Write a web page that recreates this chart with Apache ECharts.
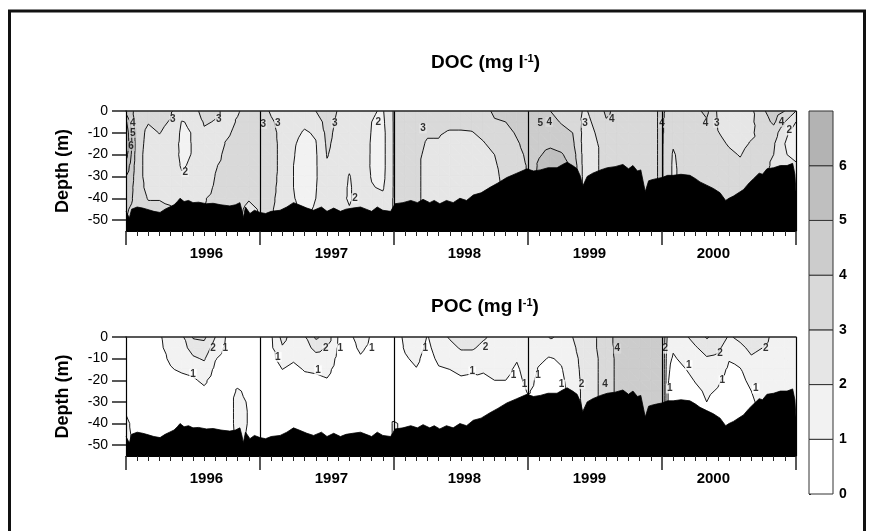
<!DOCTYPE html>
<html>
<head>
<meta charset="utf-8">
<script src="https://cdn.jsdelivr.net/npm/echarts@6/dist/echarts.min.js"></script>
<style>
  html, body { margin: 0; padding: 0; background: #fff; }
  #chart { width: 873px; height: 531px; }
</style>
</head>
<body>
<div id="chart"></div>
<script>
// Sampling depths (m) for every profile
const depths = [0, -5, -10, -15, -20, -25, -30, -35, -40, -45, -50, -55];

// Time in months from the start of the record (long ticks every 12 months)
const docMonths = [0, 0.5, 1, 2, 3, 4, 5, 6, 7, 8, 9, 10, 11, 12, 13, 14, 15, 16, 17, 18, 19, 20,
  21, 22, 23, 24, 25, 26, 27, 28, 29, 30, 31, 32, 33, 34, 35, 36, 37, 38, 39, 40, 41, 42, 43, 44,
  45, 46, 47, 48, 49, 50, 51, 52, 53, 54, 55, 56, 57, 58, 59, 60];

// DOC (mg/l) profiles, one row per entry of docMonths, top to bottom
const docProfiles = [
  [4.6, 6.2, 6.8, 6.9, 6.4, 5.6, 5.0, 4.6, 4.3, 4.1, 4.0, 4.0],
  [4.2, 4.6, 5.0, 5.1, 4.9, 4.6, 4.4, 4.2, 4.1, 3.9, 3.8, 3.8],
  [3.6, 3.5, 3.4, 3.35, 3.3, 3.3, 3.3, 3.3, 3.4, 3.5, 3.5, 3.5],
  [3.4, 3.05, 2.8, 2.75, 2.7, 2.7, 2.7, 2.8, 2.95, 3.2, 3.3, 3.3],
  [3.3, 3.15, 3.02, 2.85, 2.7, 2.6, 2.6, 2.7, 2.95, 3.2, 3.3, 3.3],
  [3.1, 2.95, 2.8, 2.6, 2.5, 2.5, 2.5, 2.6, 2.9, 3.05, 3.1, 3.1],
  [2.6, 1.95, 1.8, 1.75, 1.8, 1.9, 2.1, 2.4, 2.7, 2.85, 2.9, 2.9],
  [2.7, 2.15, 2.05, 2.05, 2.05, 2.15, 2.35, 2.55, 2.7, 2.8, 2.8, 2.8],
  [3.3, 3.1, 2.85, 2.6, 2.5, 2.5, 2.55, 2.7, 2.95, 3.0, 3.0, 3.0],
  [3.15, 2.95, 2.7, 2.7, 2.8, 2.95, 3.02, 3.1, 3.2, 3.2, 3.2, 3.2],
  [2.8, 2.8, 2.9, 3.05, 3.15, 3.2, 3.25, 3.3, 3.3, 3.3, 3.3, 3.3],
  [2.95, 3.05, 3.15, 3.25, 3.3, 3.35, 3.4, 3.4, 3.3, 3.15, 3.1, 3.1],
  [3.2, 3.3, 3.35, 3.4, 3.45, 3.45, 3.4, 3.3, 3.05, 2.85, 2.8, 2.8],
  [3.4, 3.4, 3.45, 3.5, 3.5, 3.5, 3.45, 3.35, 3.2, 3.05, 3.0, 3.0],
  [2.9, 3.1, 3.2, 3.25, 3.25, 3.25, 3.2, 3.15, 3.1, 3.05, 3.05, 3.05],
  [2.7, 2.75, 2.8, 2.8, 2.8, 2.8, 2.8, 2.8, 2.8, 2.8, 2.8, 2.8],
  [2.6, 2.45, 2.25, 2.1, 2.05, 2.0, 2.0, 2.0, 2.05, 2.15, 2.2, 2.2],
  [2.5, 2.2, 1.9, 1.7, 1.6, 1.6, 1.6, 1.6, 1.65, 1.8, 1.9, 1.9],
  [3.0, 2.5, 2.1, 1.95, 1.9, 1.9, 1.9, 1.95, 2.0, 2.1, 2.2, 2.2],
  [3.4, 3.35, 3.25, 3.15, 3.05, 2.9, 2.8, 2.75, 2.7, 2.7, 2.7, 2.7],
  [2.95, 2.85, 2.75, 2.7, 2.65, 2.6, 2.5, 2.4, 2.3, 2.3, 2.3, 2.3],
  [2.8, 2.75, 2.7, 2.6, 2.4, 2.15, 1.95, 1.9, 1.9, 2.05, 2.3, 2.3],
  [2.75, 2.7, 2.65, 2.6, 2.55, 2.5, 2.45, 2.4, 2.4, 2.4, 2.4, 2.4],
  [2.1, 2.0, 1.95, 1.9, 1.9, 1.9, 1.95, 2.05, 2.4, 2.5, 2.5, 2.5],
  [1.9, 1.8, 1.7, 1.7, 1.7, 1.7, 1.75, 1.9, 2.2, 2.4, 2.5, 2.5],
  [3.1, 3.1, 3.1, 3.1, 3.1, 3.1, 3.1, 3.1, 3.1, 3.1, 3.1, 3.1],
  [3.3, 3.3, 3.3, 3.35, 3.35, 3.35, 3.3, 3.3, 3.3, 3.3, 3.3, 3.3],
  [3.3, 3.25, 3.2, 3.15, 3.1, 3.1, 3.1, 3.1, 3.1, 3.1, 3.1, 3.1],
  [3.3, 3.2, 3.05, 2.95, 2.9, 2.85, 2.85, 2.85, 2.85, 2.85, 2.85, 2.85],
  [3.3, 3.2, 3.05, 2.95, 2.85, 2.75, 2.7, 2.7, 2.7, 2.7, 2.7, 2.7],
  [3.3, 3.15, 2.95, 2.8, 2.7, 2.6, 2.6, 2.6, 2.6, 2.6, 2.6, 2.6],
  [3.4, 3.15, 2.95, 2.8, 2.7, 2.6, 2.55, 2.55, 2.55, 2.55, 2.55, 2.55],
  [3.4, 3.2, 2.97, 2.8, 2.7, 2.6, 2.55, 2.55, 2.55, 2.55, 2.55, 2.55],
  [3.6, 3.4, 3.15, 2.95, 2.8, 2.7, 2.65, 2.65, 2.65, 2.65, 2.65, 2.65],
  [4.2, 3.9, 3.6, 3.2, 3.0, 2.9, 2.85, 2.85, 2.85, 2.85, 2.85, 2.85],
  [4.3, 4.0, 3.7, 3.5, 3.4, 3.3, 3.2, 3.15, 3.1, 3.1, 3.1, 3.1],
  [4.6, 4.4, 4.1, 3.9, 3.7, 3.5, 3.4, 3.3, 3.3, 3.3, 3.3, 3.3],
  [4.6, 4.5, 4.4, 4.3, 4.2, 4.1, 4.1, 4.1, 4.1, 4.1, 4.1, 4.1],
  [4.7, 4.6, 4.5, 4.6, 4.9, 5.2, 5.3, 5.3, 5.3, 5.3, 5.3, 5.3],
  [4.0, 4.2, 4.4, 4.8, 5.3, 5.6, 5.7, 5.7, 5.7, 5.7, 5.7, 5.7],
  [3.8, 3.95, 4.2, 4.6, 5.1, 5.5, 5.6, 5.6, 5.6, 5.6, 5.6, 5.6],
  [3.6, 3.8, 4.0, 4.2, 4.5, 4.8, 5.0, 5.0, 5.0, 5.0, 5.0, 5.0],
  [2.9, 2.8, 2.75, 2.7, 2.7, 2.7, 2.7, 2.7, 2.7, 2.7, 2.7, 2.7],
  [3.2, 3.1, 3.0, 2.9, 2.9, 2.9, 2.9, 2.9, 2.9, 2.9, 2.9, 2.9],
  [4.2, 3.9, 3.5, 3.3, 3.2, 3.2, 3.2, 3.2, 3.2, 3.2, 3.2, 3.2],
  [3.7, 3.6, 3.5, 3.4, 3.4, 3.4, 3.4, 3.4, 3.4, 3.4, 3.4, 3.4],
  [3.6, 3.55, 3.5, 3.5, 3.45, 3.4, 3.4, 3.4, 3.4, 3.4, 3.4, 3.4],
  [3.6, 3.6, 3.55, 3.5, 3.5, 3.45, 3.45, 3.45, 3.45, 3.45, 3.45, 3.45],
  [3.85, 3.85, 3.85, 3.85, 3.85, 3.85, 3.85, 3.85, 3.85, 3.85, 3.85, 3.85],
  [4.1, 4.1, 4.1, 4.1, 4.1, 4.1, 4.1, 4.1, 4.1, 4.1, 4.1, 4.1],
  [3.7, 3.6, 3.4, 3.1, 2.9, 2.85, 2.85, 2.85, 2.85, 2.85, 2.85, 2.85],
  [3.6, 3.55, 3.5, 3.45, 3.4, 3.35, 3.3, 3.3, 3.3, 3.3, 3.3, 3.3],
  [3.8, 3.7, 3.55, 3.45, 3.4, 3.35, 3.3, 3.3, 3.3, 3.3, 3.3, 3.3],
  [4.2, 3.9, 3.6, 3.4, 3.35, 3.3, 3.3, 3.3, 3.3, 3.3, 3.3, 3.3],
  [2.85, 2.93, 3.02, 3.15, 3.25, 3.3, 3.3, 3.3, 3.3, 3.3, 3.3, 3.3],
  [2.7, 2.75, 2.85, 2.95, 3.1, 3.2, 3.25, 3.3, 3.3, 3.3, 3.3, 3.3],
  [2.6, 2.65, 2.75, 2.85, 2.97, 3.1, 3.2, 3.3, 3.3, 3.3, 3.3, 3.3],
  [2.8, 2.85, 2.9, 3.05, 3.2, 3.3, 3.3, 3.3, 3.3, 3.3, 3.3, 3.3],
  [3.8, 3.5, 3.3, 3.2, 3.2, 3.2, 3.2, 3.2, 3.2, 3.2, 3.2, 3.2],
  [4.6, 4.2, 3.5, 3.1, 3.0, 2.9, 2.8, 2.8, 2.8, 2.8, 2.8, 2.8],
  [4.0, 3.0, 2.2, 2.0, 2.1, 2.4, 2.6, 2.6, 2.6, 2.6, 2.6, 2.6],
  [3.0, 2.0, 1.4, 1.4, 1.6, 2.2, 2.8, 2.8, 2.8, 2.8, 2.8, 2.8]
];

const pocMonths = [0, 1, 2, 3, 4, 5, 6, 7, 8, 9, 10, 11, 12, 13, 14, 15, 16, 17, 18, 19, 20,
  21, 22, 23, 24, 25, 26, 27, 28, 29, 30, 31, 32, 33, 34, 35, 36, 37, 38, 39, 40, 41, 42, 43, 44,
  45, 46, 47, 48, 48.5, 49, 50, 51, 52, 53, 54, 55, 56, 57, 58, 59, 60];

// POC (mg/l) profiles, one row per entry of pocMonths
const pocProfiles = [
  [0.6, 0.6, 0.6, 0.6, 0.6, 0.7, 0.8, 0.95, 1.2, 1.3, 1.3, 1.3],
  [0.5, 0.5, 0.5, 0.5, 0.5, 0.5, 0.5, 0.5, 0.6, 0.6, 0.6, 0.6],
  [0.5, 0.5, 0.5, 0.5, 0.5, 0.5, 0.5, 0.5, 0.5, 0.5, 0.5, 0.5],
  [0.9, 0.85, 0.8, 0.7, 0.6, 0.5, 0.5, 0.5, 0.5, 0.5, 0.5, 0.5],
  [1.4, 1.3, 1.1, 0.95, 0.7, 0.5, 0.5, 0.5, 0.5, 0.5, 0.5, 0.5],
  [1.8, 1.6, 1.4, 1.1, 0.8, 0.6, 0.5, 0.5, 0.5, 0.5, 0.5, 0.5],
  [3.1, 2.4, 1.85, 1.2, 0.9, 0.7, 0.5, 0.5, 0.5, 0.5, 0.5, 0.5],
  [3.2, 2.6, 2.1, 1.6, 1.15, 0.85, 0.6, 0.5, 0.5, 0.5, 0.5, 0.5],
  [2.0, 1.5, 1.05, 0.8, 0.6, 0.5, 0.5, 0.5, 0.5, 0.5, 0.5, 0.5],
  [0.9, 0.8, 0.6, 0.5, 0.5, 0.5, 0.5, 0.5, 0.5, 0.5, 0.5, 0.5],
  [0.5, 0.5, 0.5, 0.5, 0.7, 1.1, 1.3, 1.3, 1.3, 1.25, 1.2, 1.2],
  [0.5, 0.5, 0.5, 0.5, 0.6, 0.8, 0.9, 0.95, 0.95, 0.9, 0.9, 0.9],
  [0.5, 0.5, 0.5, 0.5, 0.5, 0.5, 0.5, 0.5, 0.5, 0.5, 0.5, 0.5],
  [0.9, 0.85, 0.8, 0.6, 0.5, 0.5, 0.5, 0.5, 0.5, 0.5, 0.5, 0.5],
  [2.3, 1.9, 1.3, 1.0, 0.7, 0.5, 0.5, 0.5, 0.5, 0.5, 0.5, 0.5],
  [1.6, 1.4, 1.1, 0.8, 0.6, 0.5, 0.5, 0.5, 0.5, 0.5, 0.5, 0.5],
  [1.9, 1.6, 1.3, 1.05, 0.8, 0.6, 0.5, 0.5, 0.5, 0.5, 0.5, 0.5],
  [3.2, 2.3, 1.6, 1.1, 0.85, 0.6, 0.5, 0.5, 0.5, 0.5, 0.5, 0.5],
  [2.6, 1.9, 1.5, 1.2, 0.95, 0.7, 0.5, 0.5, 0.5, 0.5, 0.5, 0.5],
  [0.95, 0.9, 0.8, 0.7, 0.6, 0.5, 0.5, 0.5, 0.5, 0.5, 0.5, 0.5],
  [0.8, 0.7, 0.6, 0.5, 0.5, 0.5, 0.5, 0.5, 0.5, 0.5, 0.5, 0.5],
  [1.4, 1.15, 0.9, 0.7, 0.5, 0.5, 0.5, 0.5, 0.5, 0.5, 0.5, 0.5],
  [0.9, 0.8, 0.6, 0.5, 0.5, 0.5, 0.5, 0.5, 0.5, 0.5, 0.5, 0.5],
  [0.5, 0.5, 0.5, 0.5, 0.5, 0.5, 0.5, 0.5, 0.5, 0.5, 0.5, 0.5],
  [0.5, 0.5, 0.5, 0.5, 0.5, 0.5, 0.5, 0.6, 1.1, 1.1, 1.1, 1.1],
  [1.2, 1.1, 0.9, 0.7, 0.5, 0.5, 0.5, 0.5, 0.8, 0.8, 0.8, 0.8],
  [1.6, 1.4, 1.2, 0.95, 0.7, 0.5, 0.5, 0.5, 0.5, 0.5, 0.5, 0.5],
  [0.95, 0.8, 0.6, 0.5, 0.5, 0.5, 0.5, 0.5, 0.5, 0.5, 0.5, 0.5],
  [1.6, 1.4, 1.2, 0.9, 0.7, 0.5, 0.5, 0.5, 0.5, 0.5, 0.5, 0.5],
  [2.1, 1.7, 1.3, 1.0, 0.75, 0.5, 0.5, 0.5, 0.5, 0.5, 0.5, 0.5],
  [2.4, 2.1, 1.6, 1.15, 0.9, 0.6, 0.5, 0.5, 0.5, 0.5, 0.5, 0.5],
  [2.4, 2.1, 1.6, 1.1, 0.85, 0.6, 0.5, 0.5, 0.5, 0.5, 0.5, 0.5],
  [2.1, 1.8, 1.4, 1.05, 0.9, 0.6, 0.5, 0.5, 0.5, 0.5, 0.5, 0.5],
  [1.8, 1.6, 1.4, 1.2, 1.0, 0.7, 0.5, 0.5, 0.5, 0.5, 0.5, 0.5],
  [1.6, 1.5, 1.3, 1.15, 1.0, 0.7, 0.6, 0.5, 0.5, 0.5, 0.5, 0.5],
  [1.4, 1.3, 1.05, 0.9, 0.8, 0.7, 0.6, 0.5, 0.5, 0.5, 0.5, 0.5],
  [1.3, 1.3, 1.3, 1.3, 1.2, 1.05, 0.9, 0.8, 0.8, 0.8, 0.8, 0.8],
  [1.5, 1.3, 1.1, 0.95, 0.85, 0.8, 0.8, 0.8, 0.8, 0.8, 0.8, 0.8],
  [2.1, 1.4, 0.95, 0.8, 0.7, 0.7, 0.7, 0.7, 0.7, 0.7, 0.7, 0.7],
  [1.8, 1.4, 1.1, 0.95, 0.85, 0.8, 0.8, 0.8, 0.8, 0.8, 0.8, 0.8],
  [2.0, 1.8, 1.6, 1.5, 1.4, 1.3, 1.2, 1.2, 1.2, 1.2, 1.2, 1.2],
  [2.6, 2.5, 2.4, 2.35, 2.3, 2.3, 2.3, 2.2, 2.2, 2.2, 2.2, 2.2],
  [2.9, 2.9, 2.8, 2.8, 2.8, 2.8, 2.8, 2.8, 2.8, 2.8, 2.8, 2.8],
  [3.7, 3.6, 3.5, 3.5, 3.5, 3.5, 3.5, 3.5, 3.5, 3.5, 3.5, 3.5],
  [4.2, 4.2, 4.2, 4.2, 4.2, 4.2, 4.2, 4.2, 4.2, 4.2, 4.2, 4.2],
  [4.3, 4.3, 4.3, 4.3, 4.3, 4.3, 4.3, 4.3, 4.3, 4.3, 4.3, 4.3],
  [4.3, 4.3, 4.3, 4.3, 4.3, 4.3, 4.3, 4.3, 4.3, 4.3, 4.3, 4.3],
  [4.3, 4.3, 4.3, 4.3, 4.3, 4.3, 4.3, 4.3, 4.3, 4.3, 4.3, 4.3],
  [4.3, 4.3, 4.3, 4.3, 4.3, 4.3, 4.3, 4.3, 4.3, 4.3, 4.3, 4.3],
  [1.8, 1.6, 1.3, 1.2, 1.1, 1.05, 1.05, 1.05, 1.05, 1.05, 1.05, 1.05],
  [1.7, 1.1, 0.9, 0.7, 0.6, 0.5, 0.5, 0.5, 0.5, 0.5, 0.5, 0.5],
  [1.8, 1.5, 1.2, 0.95, 0.75, 0.6, 0.5, 0.5, 0.5, 0.5, 0.5, 0.5],
  [2.4, 1.9, 1.5, 1.25, 1.05, 0.85, 0.6, 0.5, 0.5, 0.5, 0.5, 0.5],
  [3.1, 2.4, 1.9, 1.5, 1.25, 1.1, 1.0, 0.8, 0.8, 0.8, 0.8, 0.8],
  [2.6, 2.2, 1.8, 1.4, 1.1, 0.95, 0.8, 0.8, 0.8, 0.8, 0.8, 0.8],
  [1.9, 1.5, 1.05, 0.85, 0.7, 0.6, 0.5, 0.5, 0.5, 0.5, 0.5, 0.5],
  [2.2, 1.8, 1.3, 0.95, 0.8, 0.7, 0.6, 0.6, 0.6, 0.6, 0.6, 0.6],
  [2.5, 2.2, 1.9, 1.5, 1.2, 1.0, 0.9, 0.8, 0.8, 0.8, 0.8, 0.8],
  [2.3, 2.0, 1.7, 1.5, 1.35, 1.25, 1.2, 1.15, 1.1, 1.1, 1.1, 1.1],
  [1.8, 1.7, 1.6, 1.5, 1.45, 1.4, 1.4, 1.4, 1.4, 1.4, 1.4, 1.4],
  [1.6, 1.55, 1.5, 1.5, 1.45, 1.4, 1.4, 1.4, 1.4, 1.4, 1.4, 1.4],
  [1.6, 1.55, 1.5, 1.5, 1.45, 1.4, 1.4, 1.4, 1.4, 1.4, 1.4, 1.4]
];

// Lake bottom depth (m) along the time axis
const bottomMonths = [0, 0.3, 0.5, 1.0, 1.5, 1.85, 2.5, 3.05, 3.5, 3.9, 4.3, 4.6, 4.84, 5.2, 5.6, 6.0,
  6.5, 7.2, 7.8, 8.5, 9.3, 9.8, 10.2, 10.4, 10.5, 10.7, 11.1, 11.5, 12, 12.5, 13, 13.8, 14.4, 15,
  15.5, 16.2, 16.8, 17.5, 18, 18.6, 19.2, 19.7, 20.3, 21, 21.5, 22, 22.5, 23, 23.7, 24.1, 24.8,
  25.5, 26.1, 26.6, 27.2, 27.6, 28.1, 28.7, 29.3, 29.9, 30.5, 31.1, 31.8, 32.6, 33.3, 34.1, 35,
  35.9, 36.5, 37.1, 37.8, 38.6, 39.1, 39.5, 40.0, 40.4, 40.7, 40.9, 41.3, 41.8, 42.5, 43.1, 43.8,
  44.5, 45.0, 45.4, 45.8, 46.1, 46.5, 46.8, 47.1, 47.5, 48.0, 48.5, 49.0, 49.7, 50.5, 51.0, 51.4,
  52.0, 52.6, 53.2, 53.7, 54.0, 54.4, 55.0, 55.3, 55.8, 56.2, 56.7, 57.0, 57.4, 58.0, 58.6, 59.2,
  59.7, 59.9, 60];
const bottomDepth = [-46, -49, -45, -44, -44.5, -45, -46, -46.5, -45, -44, -43, -41.5, -40, -41.5, -41, -42,
  -41.8, -42.5, -42.3, -43, -43.5, -43, -42, -46, -49, -44, -47, -45.5, -46.5, -47, -46, -45.5, -44, -42,
  -43, -44.5, -45.5, -44, -46, -44.5, -46, -45, -44.5, -44, -45, -46, -44, -45.5, -46, -42.5, -42,
  -41, -42, -40.5, -42, -41, -42.5, -41, -42, -40, -41, -38.5, -37.5, -35, -33, -30.5, -28.5,
  -26.5, -27.5, -27, -26, -26, -24.5, -23.5, -25, -26.5, -30, -34.5, -30, -28.5, -27, -26, -25.5,
  -24.5, -26.5, -25, -27.5, -27, -37, -32, -31.5, -31, -30.5, -29.5, -29.5, -29, -29.5, -31, -32.5,
  -34, -35.5, -37.5, -41, -40, -39, -37, -36, -33, -31, -28.5, -29, -26.5, -26, -25, -25,
  -24, -29, -37];

// Contour labels: [month, depth, level]
const docContourLabels = [
  [0.6, -5.4, 4], [0.6, -10, 5], [0.45, -16, 6], [4.2, -4, 3], [5.3, -28, 2], [8.3, -4, 3],
  [12.3, -6, 3], [13.6, -5.4, 3], [18.7, -5.4, 3], [22.6, -5, 2], [20.5, -40, 2], [26.6, -8, 3],
  [37.1, -5.4, 5], [37.9, -5, 4], [41.1, -5.4, 3], [43.5, -4, 4], [48.0, -5.4, 4], [51.9, -5.4, 4],
  [52.9, -5.4, 3], [58.7, -5, 4], [59.4, -8.8, 2]
];
const pocContourLabels = [
  [7.8, -5.4, 2], [8.9, -5.4, 1], [6.0, -17, 1], [13.6, -9.2, 1], [17.2, -15.4, 1], [17.9, -5.4, 2],
  [19.2, -5.4, 1], [22.0, -5.4, 1], [26.8, -5.4, 1], [32.2, -4.8, 2], [31.0, -16, 1], [34.7, -17.7, 1],
  [35.7, -22, 1], [36.9, -17.7, 1], [39.0, -22, 1], [40.8, -21.8, 2], [42.9, -22, 4], [44.0, -5.4, 4],
  [48.3, -5.4, 2], [48.7, -23.8, 1], [50.4, -13, 1], [53.2, -7.7, 2], [53.4, -20, 1], [56.4, -23.8, 1],
  [57.3, -5.4, 2]
];

// Shading classes (mg/l) and tick labels
const levels = [0, 1, 2, 3, 4, 5, 6, 7];
const bandColors = ['#ffffff', '#f2f2f2', '#e6e6e6', '#d9d9d9', '#cccccc', '#bfbfbf', '#b3b3b3'];
const legendTicks = [0, 1, 2, 3, 4, 5, 6];
const depthTicks = [0, -10, -20, -30, -40, -50];
const yearLabels = ['1996', '1997', '1998', '1999', '2000'];
const yearLabelMonths = [7.2, 18.4, 30.3, 41.5, 52.6];

const FONT = '"Liberation Sans", Arial, Helvetica, sans-serif';

// Sutherland-Hodgman clip of a polygon against v >= level (above) or v <= level
function clipPoly(poly, level, above) {
  const out = [];
  for (let k = 0; k < poly.length; k++) {
    const a = poly[k], b = poly[(k + 1) % poly.length];
    const ina = above ? a.v >= level : a.v <= level;
    const inb = above ? b.v >= level : b.v <= level;
    if (ina) out.push(a);
    if (ina !== inb) {
      const f = (level - a.v) / (b.v - a.v);
      out.push({ t: a.t + f * (b.t - a.t), d: a.d + f * (b.d - a.d), v: level });
    }
  }
  return out;
}

// Filled contour bands + isolines, one grid cell per data item
function fieldSeries(months, profiles, xIdx, yIdx) {
  const cells = [];
  for (let i = 0; i < months.length - 1; i++) {
    for (let j = 0; j < depths.length - 1; j++) {
      cells.push([(months[i] + months[i + 1]) / 2, (depths[j] + depths[j + 1]) / 2, i, j]);
    }
  }
  const nb = levels.length - 1;
  return {
    type: 'custom', xAxisIndex: xIdx, yAxisIndex: yIdx, data: cells,
    encode: { x: 0, y: 1 }, z: 2, silent: true, clip: true,
    renderItem(params, api) {
      const i = api.value(2), j = api.value(3);
      const node = (a, b) => ({ t: months[a], d: depths[b], v: profiles[a][b] + 1e-6 });
      const q = [node(i, j), node(i + 1, j), node(i + 1, j + 1), node(i, j + 1)];
      const tris = [[q[0], q[1], q[2]], [q[0], q[2], q[3]]];
      const children = [];
      for (const tri of tris) {
        for (let k = 0; k < nb; k++) {
          let poly = tri;
          if (k > 0) poly = clipPoly(poly, levels[k], true);
          if (k < nb - 1 && poly.length) poly = clipPoly(poly, levels[k + 1], false);
          if (poly.length < 3) continue;
          children.push({
            type: 'polygon', z2: 0,
            shape: { points: poly.map(p => api.coord([p.t, p.d])) },
            style: { fill: bandColors[k], stroke: bandColors[k], lineWidth: 0.7 }
          });
        }
        for (let L = 1; L < nb; L++) {
          const pts = [];
          for (let e = 0; e < 3; e++) {
            const a = tri[e], b = tri[(e + 1) % 3];
            if ((a.v - L) * (b.v - L) < 0) {
              const f = (L - a.v) / (b.v - a.v);
              pts.push(api.coord([a.t + f * (b.t - a.t), a.d + f * (b.d - a.d)]));
            }
          }
          if (pts.length === 2) {
            children.push({
              type: 'line', z2: 10,
              shape: { x1: pts[0][0], y1: pts[0][1], x2: pts[1][0], y2: pts[1][1] },
              style: { stroke: '#000', lineWidth: 0.9 }
            });
          }
        }
      }
      return { type: 'group', children };
    }
  };
}

function labelSeries(list, xIdx, yIdx) {
  return {
    type: 'scatter', xAxisIndex: xIdx, yAxisIndex: yIdx, z: 3, silent: true,
    symbolSize: 1, itemStyle: { color: 'transparent' },
    data: list.map(l => ({
      value: [l[0], l[1], l[2]],
      label: { backgroundColor: bandColors[Math.max(0, l[2] - 1)] }
    })),
    label: {
      show: true, position: 'inside', formatter: p => String(p.value[2]),
      fontFamily: FONT, fontSize: 10, fontWeight: 'bold', color: '#000', padding: [0, 1, 0, 1]
    }
  };
}

function bottomSeries(xIdx, yIdx) {
  return {
    type: 'line', xAxisIndex: xIdx, yAxisIndex: yIdx, z: 5, silent: true,
    data: bottomMonths.map((m, i) => [m, bottomDepth[i]]),
    symbol: 'none', lineStyle: { color: '#000', width: 0.8 },
    areaStyle: { color: '#000', opacity: 1, origin: 'start' }
  };
}

function timeAxis(g) {
  return {
    type: 'value', gridIndex: g, min: 0, max: 60, interval: 12, position: 'bottom', z: 4,
    axisLine: { show: true, onZero: false, lineStyle: { color: '#000', width: 1 } },
    axisTick: { show: true, length: 14, lineStyle: { color: '#222', width: 1.5 } },
    minorTick: { show: true, splitNumber: 12, length: 5, lineStyle: { color: '#222', width: 1 } },
    splitLine: { show: true, lineStyle: { color: '#000', width: 1.2 } },
    minorSplitLine: { show: false },
    axisLabel: {
      customValues: yearLabelMonths,
      formatter: v => { const k = yearLabelMonths.indexOf(v); return k >= 0 ? yearLabels[k] : ''; },
      fontFamily: FONT, fontWeight: 'bold', fontSize: 15, color: '#000', margin: 15
    }
  };
}
function topAxis(g) {
  return {
    type: 'value', gridIndex: g, min: 0, max: 60, position: 'top', z: 4,
    axisLine: { show: true, onZero: false, lineStyle: { color: '#222', width: 1.5 } },
    axisTick: { show: false }, axisLabel: { show: false }, splitLine: { show: false }
  };
}
function depthAxis(g) {
  return {
    type: 'value', gridIndex: g, min: -55, max: 0, z: 4,
    name: 'Depth (m)', nameLocation: 'middle', nameGap: 54,
    nameTextStyle: { fontFamily: FONT, fontWeight: 'bold', fontSize: 18, color: '#000' },
    axisLine: { show: true, onZero: false, lineStyle: { color: '#000', width: 1 } },
    axisTick: { show: true, customValues: depthTicks, length: 14, lineStyle: { color: '#222', width: 1.5 } },
    axisLabel: { customValues: depthTicks, fontFamily: FONT, fontSize: 14, color: '#000', margin: 18 },
    splitLine: { show: false }
  };
}

function titleText(name) {
  return {
    text: '{a|' + name + ' (mg l}{s|-1}{a|)}', padding: 0,
    textStyle: {
      rich: {
        a: { fontFamily: FONT, fontWeight: 'bold', fontSize: 19, color: '#000' },
        s: { fontFamily: FONT, fontWeight: 'bold', fontSize: 11, color: '#000', verticalAlign: 'top' }
      }
    }
  };
}

const chart = echarts.init(document.getElementById('chart'), null, { renderer: 'canvas' });
chart.setOption({
  animation: false,
  backgroundColor: '#fff',
  title: [
    Object.assign(titleText('DOC'), { left: 431, top: 53 }),
    Object.assign(titleText('POC'), { left: 431, top: 297 })
  ],
  graphic: [{
    type: 'rect', silent: true,
    shape: { x: 9.5, y: 11, width: 855, height: 540 },
    style: { fill: 'none', stroke: '#111', lineWidth: 3 }
  }],
  grid: [
    { left: 126, top: 111, width: 670, height: 120 },
    { left: 126, top: 337, width: 670, height: 119 },
    { left: 809, top: 111, width: 24, height: 383 }
  ],
  xAxis: [
    timeAxis(0), topAxis(0), timeAxis(1), topAxis(1),
    { type: 'value', gridIndex: 2, min: 0, max: 1, show: false }
  ],
  yAxis: [
    depthAxis(0), depthAxis(1),
    {
      type: 'value', gridIndex: 2, min: 0, max: 7, interval: 1, position: 'right',
      axisLine: { show: false },
      axisTick: { show: true, length: 2, lineStyle: { color: '#222', width: 1 } },
      axisLabel: { customValues: legendTicks, fontFamily: FONT, fontWeight: 'bold', fontSize: 14, color: '#000', margin: 6 },
      splitLine: { show: false }
    }
  ],
  series: [
    fieldSeries(docMonths, docProfiles, 0, 0),
    labelSeries(docContourLabels, 0, 0),
    bottomSeries(0, 0),
    fieldSeries(pocMonths, pocProfiles, 2, 1),
    labelSeries(pocContourLabels, 2, 1),
    bottomSeries(2, 1),
    {
      type: 'custom', xAxisIndex: 4, yAxisIndex: 2, silent: true, z: 2,
      data: bandColors.map((c, k) => [0.5, levels[k] + 0.5, k]),
      encode: { x: 0, y: 1 },
      renderItem(params, api) {
        const k = api.value(2);
        const p0 = api.coord([0, levels[k]]);
        const p1 = api.coord([1, levels[k + 1]]);
        return {
          type: 'rect',
          shape: { x: p0[0], y: p1[1], width: p1[0] - p0[0], height: p0[1] - p1[1] },
          style: { fill: bandColors[k], stroke: '#333', lineWidth: 1 }
        };
      }
    }
  ]
});
</script>
</body>
</html>
